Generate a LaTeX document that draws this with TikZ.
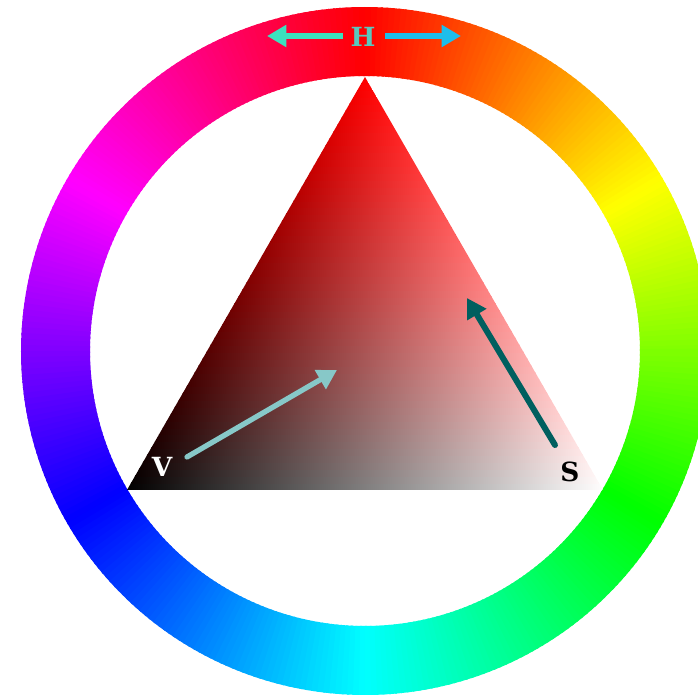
\documentclass[tikz,border=0pt]{standalone}
\usepackage{fontspec}
\setmainfont{DejaVu Serif}
\usetikzlibrary{arrows.meta}

\definecolor{hArrowL}{RGB}{60,225,190}
\definecolor{hArrowR}{RGB}{30,190,235}
\definecolor{hText}{RGB}{90,200,190}
\definecolor{vArrow}{RGB}{135,200,200}
\definecolor{sArrow}{RGB}{0,95,95}

\begin{document}
\begin{tikzpicture}[x=0.02cm, y=0.02cm, >={Triangle[length=11pt,width=12pt]}]

	% Styles
	\tikzset{
		arrowLine/.style={line width=3.4pt},
		letterLbl/.style={font=\fontsize{15}{17}\selectfont\bfseries, inner sep=0pt}
	}

	% Khung (698 x 697 px, tâm vòng tròn tại gốc)
	\useasboundingbox (-365,-346) rectangle (333,351);

	% Vòng màu (hue) - đỏ ở trên, đi theo chiều kim đồng hồ
	\foreach \a in {0,1,...,359} {
		\pgfmathsetmacro{\hue}{mod(449.5-\a,360)}
		\pgfmathsetmacro{\b}{\a+1.4}
		\definecolor{ringCol}{Hsb}{\hue,1,1}
		\fill[ringCol] (\a:275) -- (\a:344) arc[start angle=\a, end angle=\b, radius=344]
			-- (\b:275) arc[start angle=\b, end angle=\a, radius=275] -- cycle;
	}

	% Tam giác S-V (đỉnh đỏ, trái đen, phải trắng) - 60 dải ngang
	\coordinate (apex) at (0,274);
	\coordinate (cornerL) at (-238,-139);
	\coordinate (cornerR) at (238,-139);
	\begin{scope}
		\clip (apex) -- (cornerL) -- (cornerR) -- cycle;
		\foreach \i in {0,...,59} {
			\pgfmathsetmacro{\yA}{-139+6.88*\i}
			\pgfmathsetmacro{\yB}{\yA+6.88+0.8}
			\pgfmathsetmacro{\xA}{238-3.97*\i}
			\pgfmathsetmacro{\mixT}{(\i+0.5)*100/60}
			\shade[left color=red!\mixT!black, right color=red!\mixT!white]
				(-\xA,\yA) rectangle (\xA,\yB);
		}
	\end{scope}

	% Nhãn H và hai mũi tên
	\node[letterLbl, text=hText] (H) at (-2,314) {H};
	\coordinate (hTailL) at (-22,315);
	\coordinate (hTipL) at (-98,315);
	\coordinate (hTailR) at (20,315);
	\coordinate (hTipR) at (96,315);
	\draw[arrowLine, hArrowL, ->] (hTailL) -- (hTipL);
	\draw[arrowLine, hArrowR, ->] (hTailR) -- (hTipR);

	% Nhãn V và mũi tên
	\node[letterLbl, text=white] (V) at (-203,-116) {V};
	\coordinate (vTail) at (-178,-106);
	\coordinate (vTip) at (-28,-19);
	\draw[line width=3pt, vArrow, ->, line cap=round] (vTail) -- (vTip);

	% Nhãn S và mũi tên
	\node[letterLbl, text=black] (S) at (205,-121) {S};
	\coordinate (sTail) at (190,-94);
	\coordinate (sTip) at (102,53);
	\draw[arrowLine, sArrow, ->, line cap=round] (sTail) -- (sTip);

\end{tikzpicture}
\end{document}
